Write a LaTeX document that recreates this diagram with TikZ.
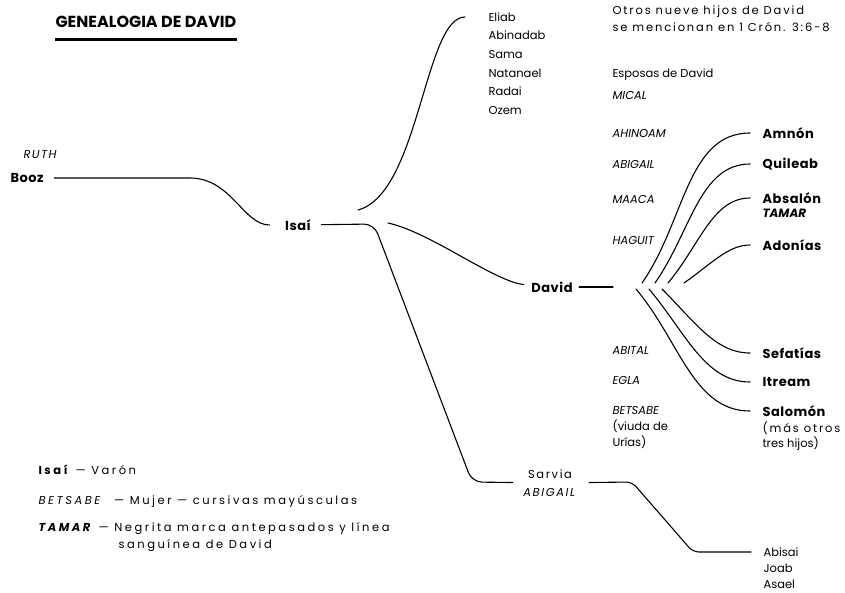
\documentclass[tikz,border=0pt]{standalone}
\usepackage{fontspec}
\setmainfont{Poppins}
\usetikzlibrary{positioning}

\tikzset{
  texto/.style = {anchor=west, inner sep=0pt, font=\fontsize{11.5}{14}\selectfont},
  ancho/.style = {texto, font=\fontsize{11.5}{14}\selectfont\addfontfeatures{LetterSpace=16}},
  leyenda/.style = {texto, font=\fontsize{11.5}{14}\selectfont\addfontfeatures{LetterSpace=22}},
  hijo/.style = {texto, font=\fontsize{13}{15}\selectfont\bfseries\addfontfeatures{LetterSpace=4}},
  esposa/.style = {texto, font=\fontsize{11.5}{14}\selectfont\itshape},
}

\begin{document}
\begin{tikzpicture}[x=1pt, y=1pt, line width=1.1pt, line cap=round]
\useasboundingbox (0,0) rectangle (845,-592);

% titulo
\node[anchor=west, inner sep=0pt, font=\fontsize{16}{18}\selectfont\bfseries] (titulo) at (55,-22) {GENEALOGIA DE DAVID};
\draw[line width=2.5pt, line cap=butt] ([yshift=-12pt]titulo.base west) -- ([yshift=-12pt]titulo.base east);

% antepasados
\node[esposa, font=\fontsize{11.5}{14}\selectfont\itshape\addfontfeatures{LetterSpace=12}] (rut) at (23,-155) {RUTH};
\node[hijo] (booz) at (10,-178) {Booz};
\node[hijo, anchor=center] (isai) at (298,-225) {Isaí};
\node[hijo, anchor=center] (david) at (552,-287) {David};
\node[ancho, anchor=center, align=center, font=\fontsize{11.5}{18}\selectfont\addfontfeatures{LetterSpace=14}] (sarvia) at (550,-483) {Sarvia\\\textit{ABIGAIL}};

% hermanos de David
\foreach \nombre [count=\i] in {Eliab, Abinadab, Sama, Natanael, Radai, Ozem}
  \node[texto] (hermano\i) at (488,{-17-18.6*(\i-1)}) {\nombre};

% notas y esposas
\node[ancho] (nota1) at (612,-12) {Otros nueve hijos de David};
\node[ancho] (nota2) at (612,-27) {se mencionan en 1 Crón. 3:6-8};
\node[texto] (esposas) at (612,-75) {Esposas de David};
\foreach \esp/\y in {MICAL/95, AHINOAM/133, ABIGAIL/164, MAACA/199, HAGUIT/240, ABITAL/350, EGLA/380, BETSABE/410}
  \node[esposa] (e-\esp) at (612,-\y) {\esp};
\node[texto] (viuda) at (612,-426) {(viuda de};
\node[texto] (urias) at (612,-442) {Urías)};

% hijos de David
\foreach \id/\hijo/\y in {amnon/Amnón/133, quileab/Quileab/164, absalon/Absalón/198, adonias/Adonías/245, sefatias/Sefatías/353, itream/Itream/382, salomon/Salomón/411}
  \node[hijo] (\id) at (762,-\y) {\hijo};
\node[hijo, font=\fontsize{12}{14}\selectfont\bfseries\itshape] (tamar) at (762,-213) {TAMAR};
\node[ancho] (otros1) at (762,-428) {(más otros};
\node[texto] (otros2) at (762,-444) {tres hijos)};

% hijos de Sarvia
\foreach \id/\sob/\y in {abisai/Abisai/552, joab/Joab/568, asael/Asael/584}
  \node[texto] (\id) at (763,-\y) {\sob};

% leyenda
\node[leyenda] (ley1) at (38,-470) {\textbf{Isaí} — Varón};
\node[leyenda] (ley2) at (38,-501) {\textit{BETSABE} \ — Mujer — cursivas mayúsculas};
\node[leyenda] (ley3) at (38,-529) {\textbf{\textit{TAMAR}} — Negrita marca antepasados y línea};
\node[leyenda] (ley4) at (118,-546) {sanguínea de David};

% ramas
\coordinate (isaiUp) at (358,-210);
\coordinate (isaiDavid) at (388,-223);
\coordinate (dj) at (613,-287);

\draw[shorten <=10pt, shorten >=15pt] (booz) -- (190,-178) to[out=0,in=180] (isai);
\draw[shorten >=23pt] (isaiUp) to[out=15,in=180,looseness=0.7] (hermano1);
\draw[shorten >=7pt] (isaiDavid) .. controls (430,-232) and (495,-282) .. (david);
\draw[rounded corners=10pt, shorten <=10pt, shorten >=10pt] (isai) -- (374,-224) -- (472,-482) -- (sarvia);
\draw[rounded corners=6pt, shorten <=12pt, shorten >=12pt] (sarvia) -- (632,-482) -- (693,-552) -- (abisai);
\draw[shorten <=6pt] (david) -- (dj);

\foreach \ini/\ang/\id in {642/55/amnon, 655/55/quileab, 668/50/absalon, 684/35/adonias}
  \draw[shorten >=12pt] (\ini,-283) coordinate (r-\id) to[out=\ang,in=180] (\id);
\foreach \ini/\ang/\id in {636/-50/salomon, 649/-50/itream, 662/-45/sefatias}
  \draw[shorten >=12pt] (\ini,-289) coordinate (r-\id) to[out=\ang,in=180] (\id);

\end{tikzpicture}
\end{document}
